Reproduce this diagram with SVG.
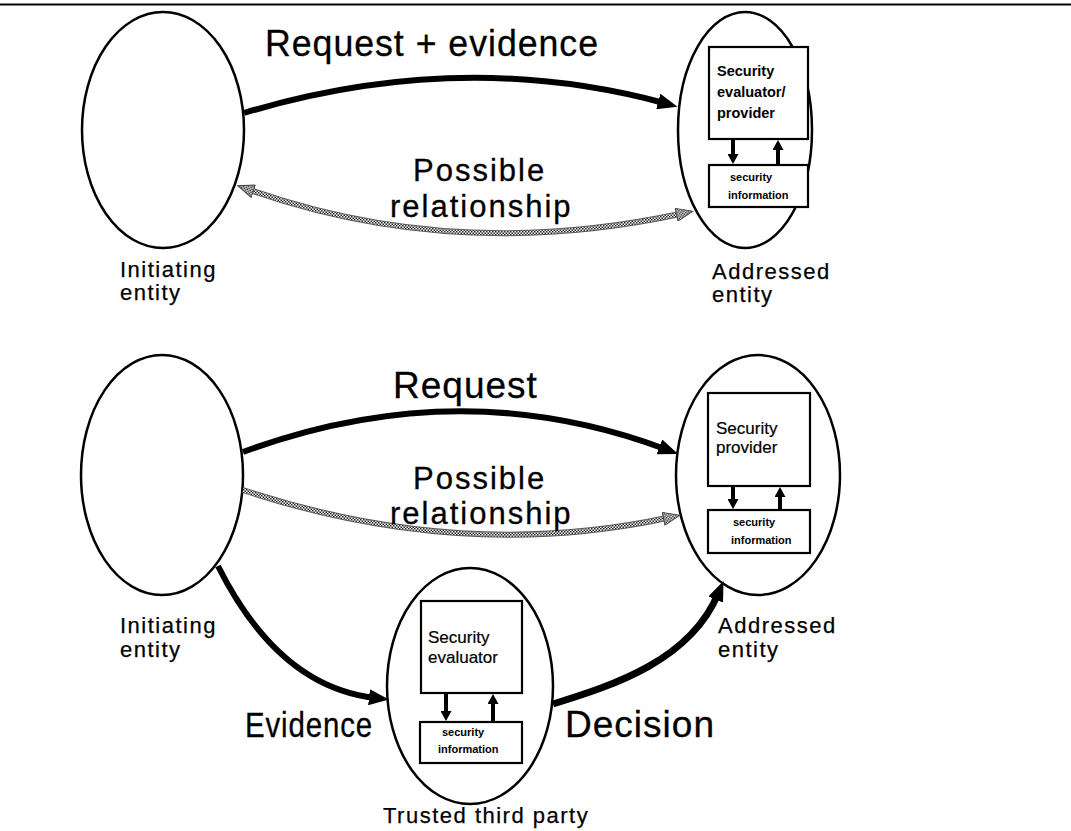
<svg xmlns="http://www.w3.org/2000/svg" width="1071" height="831" viewBox="0 0 1071 831">
  <defs>
    <!-- checkered fill used for the "possible relationship" links -->
    <pattern id="hatch" width="3" height="3" patternUnits="userSpaceOnUse">
      <rect width="3" height="3" fill="#fff"/>
      <rect width="1.5" height="1.5" fill="#222"/>
      <rect x="1.5" y="1.5" width="1.5" height="1.5" fill="#222"/>
    </pattern>
    <marker id="head" markerUnits="userSpaceOnUse" markerWidth="20" markerHeight="16" refX="6" refY="8" orient="auto">
      <path d="M0,0 L20,8 L0,16 z" fill="#000"/>
    </marker>
    <marker id="hhead" markerUnits="userSpaceOnUse" markerWidth="18" markerHeight="14" refX="4" refY="7" orient="auto-start-reverse">
      <path d="M0.5,0.5 L17,7 L0.5,13.5 z" fill="url(#hatch)" stroke="#444" stroke-width="1"/>
    </marker>
    <marker id="sm" markerUnits="userSpaceOnUse" markerWidth="12" markerHeight="11" refX="1" refY="5.5" orient="auto">
      <path d="M0,0 L10,5.5 L0,11 z" fill="#000"/>
    </marker>
    <style>
      text { font-family: "Liberation Sans", Arial, sans-serif; fill: #000; }
      .ell { fill: none; stroke: #000; stroke-width: 2.5; }
      .box { fill: #fff; stroke: #000; stroke-width: 2.2; }
      .flow { fill: none; stroke: #000; stroke-width: 6; marker-end: url(#head); }
      .relbase { fill: none; stroke: #5a5a5a; stroke-width: 6; }
      .rel { fill: none; stroke: url(#hatch); stroke-width: 4; }
      .both { marker-start: url(#hhead); marker-end: url(#hhead); }
      .one { marker-end: url(#hhead); }
      .link { fill: none; stroke: #000; stroke-width: 4; marker-end: url(#sm); }
      .big { font-size: 37px; letter-spacing: 1px; stroke: #000; stroke-width: 0.3; }
      .mid { font-size: 31px; letter-spacing: 2px; stroke: #000; stroke-width: 0.3; }
      .lbl { font-size: 22px; letter-spacing: 1.5px; stroke: #000; stroke-width: 0.25; }
      .in1 { font-size: 14.5px; font-weight: bold; }
      .in2 { font-size: 17px; stroke: #000; stroke-width: 0.2; }
      .tiny { font-size: 11px; font-weight: bold; }
    </style>
  </defs>

  <rect width="1071" height="831" fill="#fff"/>
  <line x1="0" y1="4.5" x2="1071" y2="4.5" stroke="#000" stroke-width="2"/>

  <!-- upper scenario: direct request with evidence -->
  <g id="initiating-1">
    <ellipse class="ell" cx="163" cy="130" rx="81" ry="118"/>
    <text class="lbl" x="120" y="277">Initiating</text>
    <text class="lbl" x="120" y="300">entity</text>
  </g>

  <g id="addressed-1">
    <ellipse class="ell" cx="745" cy="130" rx="67" ry="118"/>
    <rect class="box" x="709" y="47" width="99" height="92"/>
    <text class="in1" x="717" y="76">Security</text>
    <text class="in1" x="717" y="97">evaluator/</text>
    <text class="in1" x="717" y="118">provider</text>
    <rect class="box" x="709" y="165" width="99" height="42"/>
    <text class="tiny" x="730" y="181">security</text>
    <text class="tiny" x="728" y="199">information</text>
    <path class="link" d="M733,139 L733,155"/>
    <path class="link" d="M778,165 L778,149"/>
    <text class="lbl" x="712" y="279">Addressed</text>
    <text class="lbl" x="712" y="302">entity</text>
  </g>

  <!-- lower scenario: evaluation by a trusted third party -->
  <g id="initiating-2">
    <ellipse class="ell" cx="162" cy="475" rx="81" ry="120"/>
    <text class="lbl" x="120" y="633">Initiating</text>
    <text class="lbl" x="120" y="657">entity</text>
  </g>

  <g id="addressed-2">
    <ellipse class="ell" cx="758" cy="475" rx="82" ry="120"/>
    <rect class="box" x="708" y="393" width="102" height="93"/>
    <text class="in2" x="716" y="434">Security</text>
    <text class="in2" x="716" y="453">provider</text>
    <rect class="box" x="708" y="510" width="102" height="43"/>
    <text class="tiny" x="733" y="526">security</text>
    <text class="tiny" x="731" y="544">information</text>
    <path class="link" d="M733,486 L733,500"/>
    <path class="link" d="M780,510 L780,496"/>
    <text class="lbl" x="718" y="633">Addressed</text>
    <text class="lbl" x="718" y="657">entity</text>
  </g>

  <g id="trusted-third-party">
    <ellipse class="ell" cx="470" cy="686" rx="83" ry="118"/>
    <rect class="box" x="421" y="601" width="101" height="92"/>
    <text class="in2" x="428" y="643">Security</text>
    <text class="in2" x="428" y="663">evaluator</text>
    <rect class="box" x="420" y="722" width="102" height="41"/>
    <text class="tiny" x="442" y="736">security</text>
    <text class="tiny" x="438" y="753">information</text>
    <path class="link" d="M446,693 L446,712"/>
    <path class="link" d="M493,722 L493,703"/>
    <text class="lbl" x="383" y="823">Trusted third party</text>
  </g>

  <g id="connectors">
    <path class="flow" d="M244,113 Q460,48 664,103"/>
    <path class="relbase" d="M250,190 Q455,262 680,214"/>
    <path class="rel both" d="M250,190 Q455,262 680,214"/>
    <path class="flow" d="M243,452 Q460,372 665,449"/>
    <path class="relbase" d="M243,490 Q460,562 667,518"/>
    <path class="rel one" d="M243,490 Q460,562 667,518"/>
    <path class="flow" d="M218,566 C255,640 305,690 375,698"/>
    <path class="flow" style="stroke-width:7" d="M553,704 C615,685 690,660 718,594"/>
  </g>

  <g id="labels">
    <text class="big" x="265" y="56" textLength="334" lengthAdjust="spacingAndGlyphs">Request + evidence</text>
    <text class="mid" x="413" y="181">Possible</text>
    <text class="mid" x="390" y="217">relationship</text>
    <text class="big" x="393" y="398">Request</text>
    <text class="mid" x="413" y="489">Possible</text>
    <text class="mid" x="390" y="524">relationship</text>
    <text class="big" style="font-size:35px" x="245" y="737" textLength="128" lengthAdjust="spacingAndGlyphs">Evidence</text>
    <text class="big" x="565" y="737" textLength="150" lengthAdjust="spacingAndGlyphs">Decision</text>
  </g>
</svg>
